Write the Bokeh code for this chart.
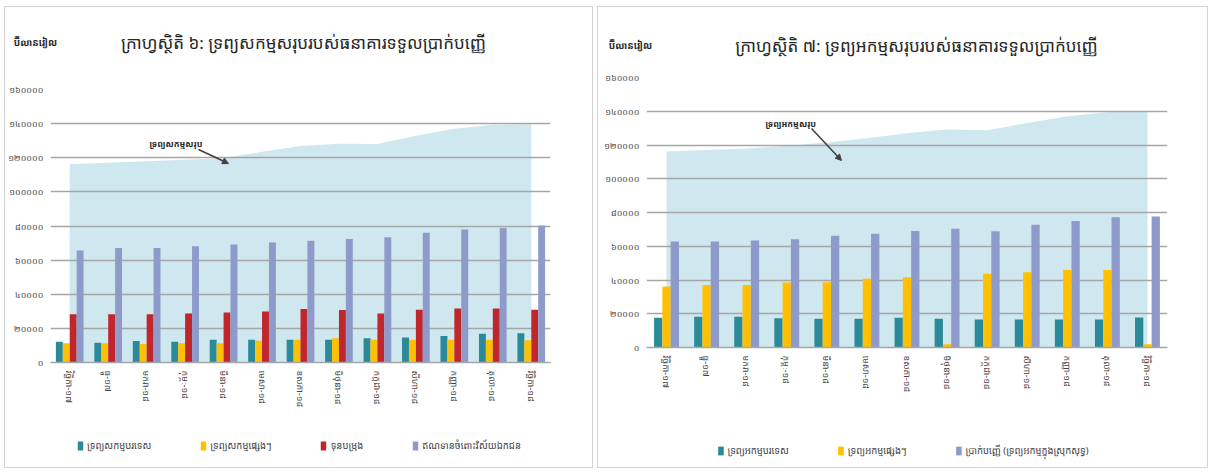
import math
from bokeh.plotting import figure
from bokeh.models import (Range1d, FactorRange, FixedTicker, Label, Arrow, NormalHead,
                          Legend, LegendItem, ColumnDataSource, Spacer)
from bokeh.layouts import row, column
from bokeh.transform import dodge
from bokeh.embed import file_html
from bokeh.resources import INLINE

KH = "'Noto Sans Khmer', 'Khmer OS', 'Khmer OS System', 'Noto Serif Khmer', 'Noto Sans', sans-serif"

# ---------------- data ----------------
months = ["វិច្ឆិកា-១៧", "ធ្នូ-១៧", "មករា-១៨", "កុម្ភៈ-១៨", "មីនា-១៨", "មេសា-១៨",
          "ឧសភា-១៨", "មិថុនា-១៨", "កក្កដា-១៨", "សីហា-១៨", "កញ្ញា-១៨", "តុលា-១៨", "វិច្ឆិកា-១៨"]

y_ticks = [0, 20000, 40000, 60000, 80000, 100000, 120000, 140000, 160000]
y_tick_labels = ["០", "២០០០០", "៤០០០០", "៦០០០០", "៨០០០០", "១០០០០០", "១២០០០០", "១៤០០០០", "១៦០០០០"]
unit_label = "ប៊ីលានរៀល"

# Chart 6: assets
title6 = "ក្រាហ្វស្ថិតិ ៦: ទ្រព្យសកម្មសរុបរបស់ធនាគារទទួលប្រាក់បញ្ញើ"
area6_label = "ទ្រព្យសកម្មសរុប"
series6_names = ["ទ្រព្យសកម្មបរទេស", "ទ្រព្យសកម្មផ្សេងៗ", "ទុនបម្រុង", "ឥណទានចំពោះវិស័យឯកជន"]
total_assets = [116200, 117100, 118000, 118900, 119700, 123500, 126900, 128200, 128000,
                132900, 137000, 139300, 139700]
foreign_assets = [12200, 11600, 12600, 12200, 13400, 13400, 13400, 13400, 14200,
                  14600, 15600, 16800, 17200]
other_assets = [11300, 11300, 10900, 11300, 11300, 12800, 13400, 14200, 13400,
                13400, 13400, 13400, 13000]
reserves = [28300, 28300, 28300, 28700, 29300, 29900, 31300, 30700, 28700,
            30900, 31700, 31700, 30900]
private_credit = [65600, 67100, 67100, 68100, 69100, 70400, 71400, 72400, 73400,
                  76000, 77900, 78900, 80300]

# Chart 7: liabilities
title7 = "ក្រាហ្វស្ថិតិ ៧: ទ្រព្យអកម្មសរុបរបស់ធនាគារទទួលប្រាក់បញ្ញើ"
area7_label = "ទ្រព្យអកម្មសរុប"
series7_names = ["ទ្រព្យអកម្មបរទេស", "ទ្រព្យអកម្មផ្សេងៗ", "ប្រាក់បញ្ញើ (ទ្រព្យអកម្មក្នុងស្រុកសុទ្ធ)"]
total_liabilities = [116100, 117000, 118000, 119500, 121500, 124000, 127000, 129200, 128700,
                     133000, 137000, 139400, 140000]
foreign_liabilities = [17600, 18200, 18200, 17400, 17000, 17000, 17600, 17000, 16600,
                       16600, 16600, 16600, 17800]
other_liabilities = [36100, 37100, 37100, 38500, 38700, 40700, 41700, 2000, 43700,
                     44600, 46000, 46000, 2000]
deposits = [62800, 62800, 63400, 64200, 66200, 67400, 69100, 70300, 68900,
            72700, 74900, 77200, 77600]

# ---------------- style ----------------
TEAL = "#2b8a99"
YELLOW = "#ffc000"
RED = "#c0272d"
PURPLE = "#8e9bca"
AREA = "#cfe7ee"
GRID = "#a6a6a6"
TXT = "#262626"


def no_align(f):
    try:
        f.frame_align = False
    except Exception:
        pass


def plain_fig(w, h):
    f = figure(width=w, height=h, x_range=Range1d(0, w), y_range=Range1d(0, h),
               output_backend="svg", toolbar_location=None, min_border=0,
               x_axis_location=None, y_axis_location=None)
    no_align(f)
    f.grid.visible = False
    f.outline_line_color = None
    f.background_fill_color = "white"
    f.border_fill_color = "white"
    return f


def header_fig(w, h, title, tx, ty, ux, uy):
    hf = plain_fig(w, h)
    hf.add_layout(Label(x=tx, y=ty, text=title, text_align="center", text_baseline="middle",
                        text_font=KH, text_font_size="17px", text_color=TXT))
    hf.add_layout(Label(x=ux, y=uy, text=unit_label, text_align="center",
                        text_baseline="middle", text_font=KH, text_font_size="9.5px",
                        text_font_style="bold", text_color=TXT))
    return hf


def footer_fig(w, h, names, series, colors, margin):
    # legend carriers: hidden copies of the series, only their swatches are shown
    ff = plain_fig(w, h)
    items = []
    for n, vals, c in zip(names, series, colors):
        r = ff.vbar(x=list(range(len(vals))), top=vals, width=0.5,
                    fill_color=c, line_color=None)
        r.visible = False
        items.append(LegendItem(label=n, renderers=[r]))
    ff.add_layout(Legend(items=items, location="top_center", orientation="horizontal",
                         padding=0, margin=margin, spacing=48,
                         border_line_color=None, background_fill_alpha=0,
                         inactive_fill_alpha=0,
                         glyph_width=7, glyph_height=11, label_height=11, label_standoff=4,
                         label_text_font=KH, label_text_font_size="9.5px",
                         label_text_color="#404040"))
    return ff


def base_fig(width, height, bl, br, bt, bb):
    p = figure(width=width, height=height,
               x_range=FactorRange(factors=months),
               y_range=Range1d(0, 160000),
               output_backend="svg", toolbar_location=None,
               min_border_left=bl, min_border_right=br,
               min_border_top=bt, min_border_bottom=bb)
    no_align(p)
    p.outline_line_color = None
    p.background_fill_color = "white"
    p.border_fill_color = "white"
    p.yaxis.ticker = FixedTicker(ticks=y_ticks)
    p.ygrid.ticker = FixedTicker(ticks=y_ticks)
    p.yaxis.major_label_overrides = dict(zip(y_ticks, y_tick_labels))
    p.yaxis.axis_line_color = None
    p.yaxis.major_tick_line_color = None
    p.yaxis.minor_tick_line_color = None
    p.yaxis.major_tick_out = 0
    p.yaxis.major_tick_in = 0
    p.yaxis.minor_tick_out = 0
    p.yaxis.major_label_standoff = 7
    p.yaxis.major_label_text_font = KH
    p.yaxis.major_label_text_font_size = "9px"
    p.yaxis.major_label_text_color = "#4d4d4d"
    p.xaxis.axis_line_color = GRID
    p.xaxis.axis_line_width = 1.5
    p.xaxis.major_tick_line_color = None
    p.xaxis.minor_tick_line_color = None
    p.xaxis.major_tick_out = 0
    p.xaxis.major_tick_in = 0
    p.xaxis.minor_tick_out = 0
    p.xaxis.major_label_orientation = -math.pi / 2
    p.xaxis.major_label_standoff = 8
    p.xaxis.major_label_text_font = KH
    p.xaxis.major_label_text_font_size = "9px"
    p.xaxis.major_label_text_color = "#404040"
    p.xgrid.grid_line_color = None
    p.ygrid.grid_line_color = GRID
    p.ygrid.grid_line_width = 1.3
    return p


def add_area_note(p, text, x, y, ax0, ay0, ax1, ay1):
    p.add_layout(Label(x=x, y=y, x_units="screen", y_units="screen", text=text,
                       text_align="left", text_baseline="middle",
                       text_font=KH, text_font_size="8.5px",
                       text_font_style="bold", text_color=TXT))
    p.add_layout(Arrow(end=NormalHead(size=6, fill_color="#404040", line_color="#404040"),
                       x_start=ax0, y_start=ay0, x_end=ax1, y_end=ay1,
                       start_units="screen", end_units="screen",
                       line_color="#404040", line_width=1.5))


BORDER = {"border": "1px solid #d4d4d4", "background-color": "white"}

# ---------------- chart 6 ----------------
h6 = header_fig(587, 72, title6, 298, 37, 30, 37)
src6 = ColumnDataSource(dict(m=months, total=total_assets, fa=foreign_assets,
                             oa=other_assets, rs=reserves, cr=private_credit))
p6 = base_fig(587, 359, 44, 42, 10, 76)
ar6 = p6.varea(x="m", y1=0, y2="total", source=src6, fill_color=AREA)
ar6.level = "image"
for col, off, colr in zip(["fa", "oa", "rs", "cr"], [-0.27, -0.09, 0.09, 0.27],
                          [TEAL, YELLOW, RED, PURPLE]):
    p6.vbar(x=dodge("m", off, range=p6.x_range), top=col, width=0.18,
            source=src6, fill_color=colr, line_color=None)
add_area_note(p6, area6_label, 99, 219, 148, 213, 178, 199)
f6 = footer_fig(587, 29, series6_names,
                [foreign_assets, other_assets, reserves, private_credit],
                [TEAL, YELLOW, RED, PURPLE], 1)
panel6 = column(h6, p6, f6, styles=BORDER)

# ---------------- chart 7 ----------------
h7 = header_fig(609, 60, title7, 318, 22, 32, 22)
src7 = ColumnDataSource(dict(m=months, total=total_liabilities, fl=foreign_liabilities,
                             ol=other_liabilities, dp=deposits))
p7 = base_fig(609, 377, 48, 40, 10, 97)
ar7 = p7.varea(x="m", y1=0, y2="total", source=src7, fill_color=AREA)
ar7.level = "image"
for col, off, colr in zip(["fl", "ol", "dp"], [-0.207, 0.0, 0.207], [TEAL, YELLOW, PURPLE]):
    p7.vbar(x=dodge("m", off, range=p7.x_range), top=col, width=0.207,
            source=src7, fill_color=colr, line_color=None)
add_area_note(p7, area7_label, 119, 224, 165, 219, 195, 187)
f7 = footer_fig(609, 23, series7_names,
                [foreign_liabilities, other_liabilities, deposits],
                [TEAL, YELLOW, PURPLE], 0)
panel7 = column(h7, p7, f7, styles=BORDER)

layout = column(Spacer(height=6),
                row(Spacer(width=4), panel6, Spacer(width=4), panel7))
open("out.html", "w").write(file_html(layout, INLINE))
